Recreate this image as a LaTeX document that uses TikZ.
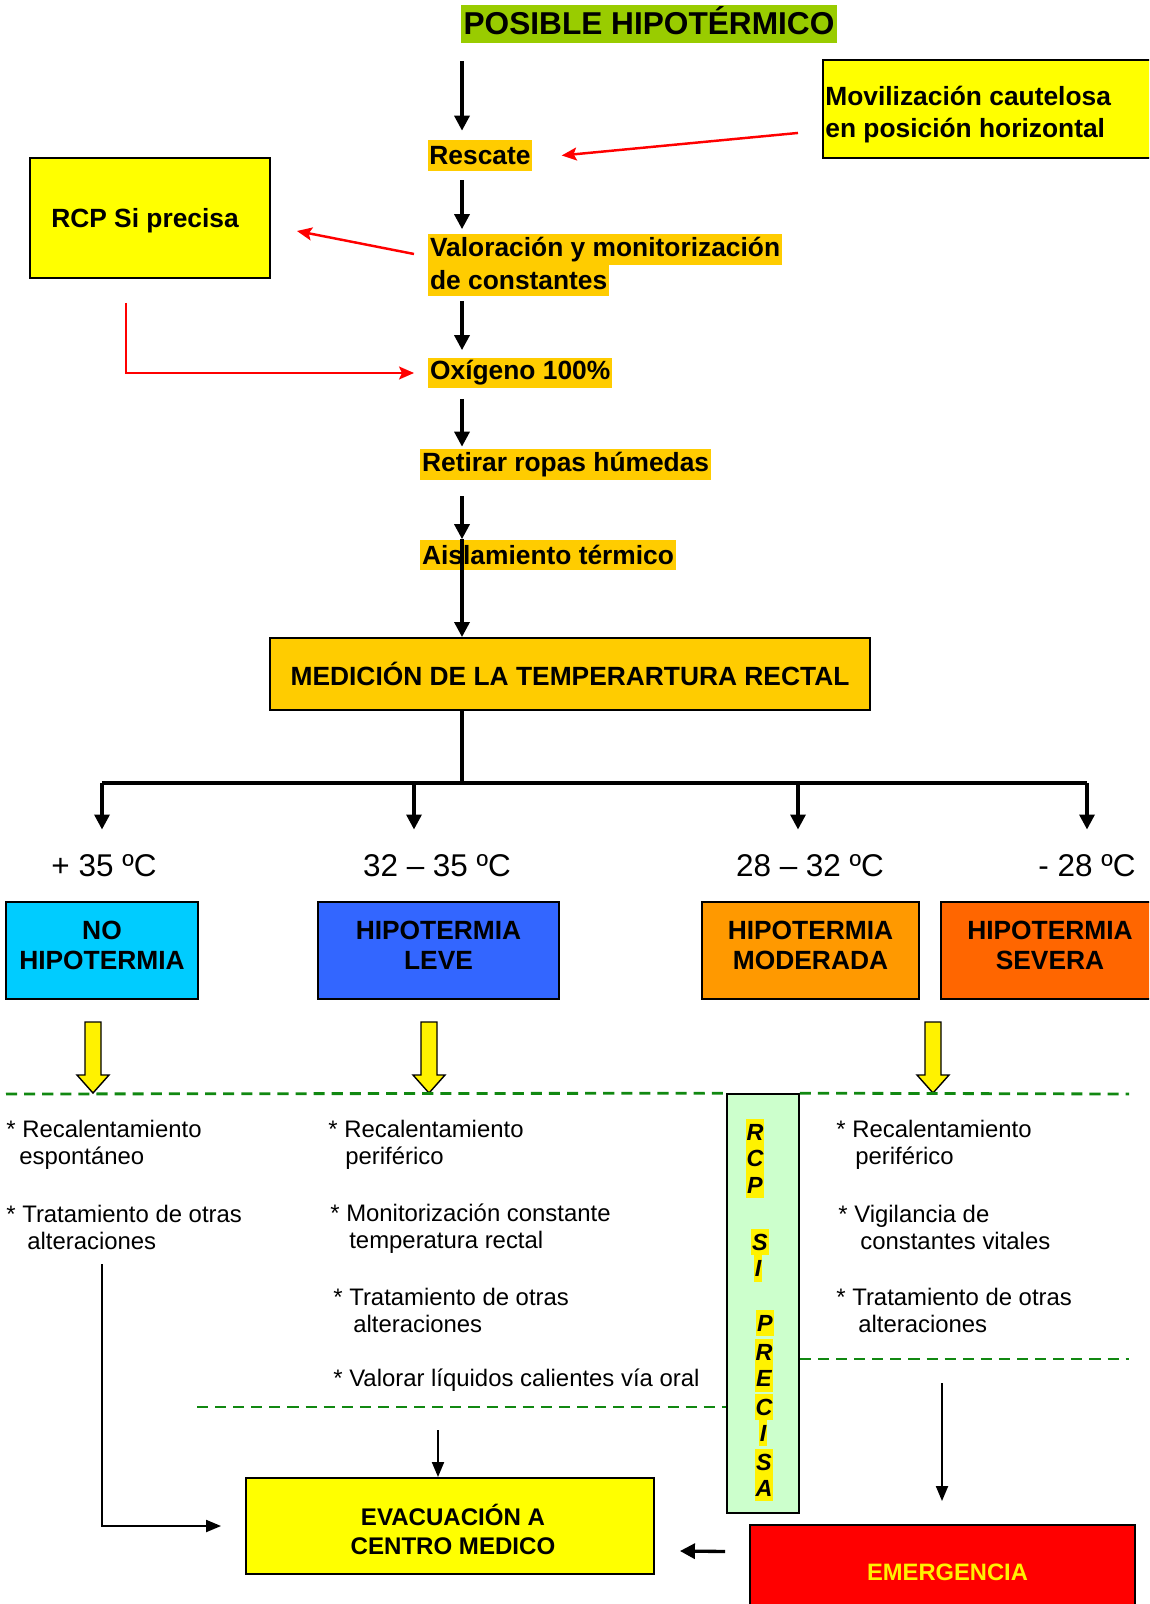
\documentclass[tikz,border=0pt]{standalone}
\usepackage{fontspec}
\setmainfont{Liberation Sans}
\usetikzlibrary{arrows.meta}
\definecolor{titlegreen}{HTML}{99CC00}
\definecolor{stepgold}{HTML}{FFCC00}
\definecolor{boxyellow}{HTML}{FFFF00}
\definecolor{nohipo}{HTML}{00CCFF}
\definecolor{levec}{HTML}{3366FF}
\definecolor{moderadac}{HTML}{FF9900}
\definecolor{severac}{HTML}{FF6600}
\definecolor{rcpgreen}{HTML}{CCFFCC}
\definecolor{dashgreen}{HTML}{118811}
\tikzset{
  stephl/.style={fill=stepgold, inner xsep=1pt, inner ysep=0pt, minimum height=0.62cm, font=\fontsize{15}{18}\selectfont\bfseries},
  framebox/.style={draw=black, line width=1.1pt, align=center, font=\fontsize{15}{17}\selectfont\bfseries},
  flow/.style={line width=1.9pt, -{Triangle[length=0.3cm,width=0.3cm]}},
  redflow/.style={red, line width=1.4pt, -{Stealth[length=0.3cm,width=0.26cm,inset=0.06cm]}},
  thinflow/.style={line width=1.1pt, -{Triangle[length=0.3cm,width=0.24cm]}},
  tempc/.style={inner sep=0pt, font=\fontsize{17.9}{20}\selectfont},
  itemtext/.style={anchor=west, inner sep=0pt, align=left, font=\fontsize{13.6}{15.4}\selectfont},
  sepline/.style={dashgreen, line width=1.6pt, dash pattern=on 6.3pt off 4pt},
  rcpl/.style={fill=yellow, inner xsep=0.5pt, inner ysep=0pt, minimum height=0.53cm, font=\fontsize{13.3}{15}\selectfont\bfseries\itshape},
  hollow/.style={fill=yellow, draw=black, line width=0.8pt, line join=miter}
}
\begin{document}
\begin{tikzpicture}[x=0.02cm,y=-0.02cm]
\useasboundingbox (0,0) rectangle (1149,1604);
\clip (0,0) rectangle (1149,1604);
% cabecera y pasos
\node[fill=titlegreen, minimum width=7.52cm, minimum height=0.76cm, inner sep=0pt, text depth=4pt, font=\fontsize{18}{20}\selectfont\bfseries] (title) at (649,24) {POSIBLE HIPOTÉRMICO};
\coordinate (spine) at (462,0);
\node[stephl] (rescate) at (480,155.5) {Rescate};
\node[stephl, anchor=west] (valor1) at (428,250) {Valoración y monitorización};
\node[stephl, anchor=west] (valor2) at (428,280.5) {de constantes};
\node[stephl, anchor=west] (oxigeno) at (428,373) {Oxígeno 100\%};
\node[stephl, anchor=west] (retirar) at (420,464.5) {Retirar ropas húmedas};
\node[stephl, anchor=west] (aislam) at (420,555) {Aislamiento térmico};
\node[draw=black, line width=1.1pt, fill=boxyellow, anchor=north west, minimum width=6.8cm, minimum height=1.96cm] (movil) at (822,59) {};
\node[anchor=west, inner sep=0pt, align=left, font=\fontsize{15}{18.2}\selectfont\bfseries] (moviltxt) at (825,114.5) {Movilización cautelosa\\en posición horizontal};
\node[framebox, fill=boxyellow, minimum width=4.8cm, minimum height=2.4cm, text height=14pt] (rcp) at (150,218) {RCP Si precisa\hspace*{0.2cm}};
\node[framebox, fill=stepgold, minimum width=12cm, minimum height=1.44cm] (medicion) at (570,674) {MEDICIÓN DE LA TEMPERARTURA RECTAL};

\draw[flow, shorten <=0.36cm, shorten >=0.18cm] (title.south -| spine) -- (rescate.north -| spine);
\draw[flow, shorten <=0.18cm, shorten >=0.1cm] (rescate.south -| spine) -- (valor1.north -| spine);
\draw[flow, shorten <=0.1cm, shorten >=0.14cm] (valor2.south -| spine) -- (oxigeno.north -| spine);
\draw[flow, shorten <=0.2cm, shorten >=0.04cm] (oxigeno.south -| spine) -- (retirar.north -| spine);
\draw[flow, shorten <=0.32cm] (retirar.south -| spine) -- (aislam.north -| spine);
\draw[flow] (aislam.north -| spine) -- (medicion.north -| spine);
\draw[redflow] ([shift={(-24,24)}]movil.west) -- ([shift={(29,0)}]rescate.east);
\draw[redflow] ([shift={(-14,4)}]valor1.west) -- ([shift={(26,13)}]rcp.east);
\draw[redflow, line width=1.1pt] ([shift={(-24,24)}]rcp.south) |- ([shift={(-14,0)}]oxigeno.west);

% ramas de temperatura
\coordinate (bar) at (462,783);
\node[tempc] (t1) at (104,866) {+ 35 ºC};
\node[tempc] (t2) at (437,866) {32 – 35 ºC};
\node[tempc] (t3) at (810,866) {28 – 32 ºC};
\node[tempc] (t4) at (1087,866) {- 28 ºC};
\draw[line width=1.9pt] (medicion.south -| spine) -- (bar);
\draw[line width=2.2pt] (102,783) -- (1087,783);
\foreach \xx/\tn in {102/t1, 414/t2, 798/t3, 1087/t4} {
  \coordinate (d\tn) at (\xx,783);
  \draw[flow, shorten >=0.5cm] (d\tn) -- (d\tn |- \tn.north);
}
\node[framebox, fill=nohipo, minimum width=3.84cm, minimum height=1.94cm, text depth=5.5pt] (nohip) at (102,950.5) {NO\\HIPOTERMIA};
\node[framebox, fill=levec, minimum width=4.82cm, minimum height=1.94cm, text depth=5.5pt] (leve) at (438.5,950.5) {HIPOTERMIA\\LEVE};
\node[framebox, fill=moderadac, minimum width=4.34cm, minimum height=1.94cm, text depth=5.5pt] (moder) at (810.5,950.5) {HIPOTERMIA\\MODERADA};
\node[framebox, fill=severac, minimum width=4.36cm, minimum height=1.94cm, text depth=5.5pt] (sever) at (1050,950.5) {HIPOTERMIA\\SEVERA};

% flechas huecas
\foreach \xx in {93,429,933}
  \draw[hollow] (\xx-8,1022) -- (\xx+8,1022) -- (\xx+8,1075) -- (\xx+16,1075) -- (\xx,1093) -- (\xx-16,1075) -- (\xx-8,1075) -- cycle;

% columna RCP
\node[draw, line width=1pt, fill=rcpgreen, minimum width=1.44cm, minimum height=8.38cm, inner sep=0pt] (rcpcol) at (763,1303.5) {};
\draw[sepline] (6,1094) -- (rcpcol.north west);
\draw[sepline] (rcpcol.north east) -- (1129,1094);
\draw[sepline] (rcpcol.east |- 0,1359) -- (1129,1359);
\draw[sepline] (197,1407) -- (rcpcol.west |- 0,1407);
\foreach \ch/\xx/\yy in {R/755/1132, C/755/1158.5, P/755/1185, S/760/1242, I/758/1268.5, P/765/1323, R/764/1352, E/764/1378.5, C/764/1407, I/763/1433, S/764/1462, A/764/1488}
  \node[rcpl] (l\yy) at (\xx,\yy) {\ch};

% tratamientos
\node[itemtext] (nh1) at (6,1144.5) {* Recalentamiento\\\hspace*{0.26cm}espontáneo};
\node[itemtext] (nh2) at (6,1227.5) {* Tratamiento de otras\\\hspace*{0.42cm}alteraciones};
\node[itemtext] (lv1) at (328,1144.5) {* Recalentamiento\\\hspace*{0.34cm}periférico};
\node[itemtext] (lv2) at (330,1229) {* Monitorización constante\\\hspace*{0.38cm}temperatura rectal};
\node[itemtext] (lv3) at (333,1310.5) {* Tratamiento de otras\\\hspace*{0.4cm}alteraciones};
\node[itemtext] (lv4) at (333,1380) {* Valorar líquidos calientes vía oral};
\node[itemtext] (sv1) at (836,1144.5) {* Recalentamiento\\\hspace*{0.38cm}periférico};
\node[itemtext] (sv2) at (838,1227.5) {* Vigilancia de\\\hspace*{0.44cm}constantes vitales};
\node[itemtext] (sv3) at (836,1310.5) {* Tratamiento de otras\\\hspace*{0.44cm}alteraciones};

% salida
\node[framebox, fill=boxyellow, minimum width=8.16cm, minimum height=1.92cm, text height=32pt, font=\fontsize{13.7}{16.3}\selectfont\bfseries] (evac) at (450,1526) {\hspace*{0.12cm}EVACUACIÓN A\\\hspace*{0.12cm}CENTRO MEDICO};
\node[framebox, fill=red, text=yellow, minimum width=7.7cm, minimum height=1.9cm, font=\fontsize{13.5}{16}\selectfont\bfseries] (emerg) at (942.5,1572.5) {\hspace*{0.2cm}EMERGENCIA};
\coordinate (c1b) at (102,1264);
\coordinate (ev) at (438,1430);
\coordinate (em) at (942,1383);
\draw[thinflow] (c1b) |- ([shift={(-24,0)}]evac.west);
\draw[thinflow] (ev) -- (ev |- evac.north);
\draw[thinflow, shorten >=0.46cm] (em) -- (em |- emerg.north);
\draw[flow] ([shift={(-24,-21)}]emerg.west) -- ([shift={(25,25)}]evac.east);
\end{tikzpicture}
\end{document}
